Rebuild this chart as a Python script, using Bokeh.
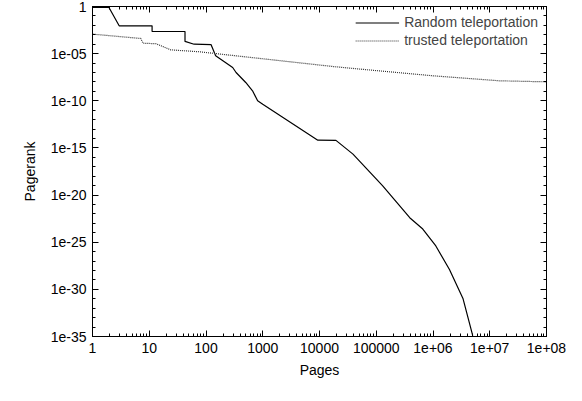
import numpy as np
from bokeh.plotting import figure
from bokeh.models import (FixedTicker, CustomJSTickFormatter, LogAxis, Legend, LegendItem, Range1d)
from bokeh.embed import file_html
from bokeh.resources import INLINE

# log10 values
random_logx = [0, 0.29, 0.47, 1.05, 1.05, 1.63, 1.63, 1.79, 2.09, 2.17, 2.47, 2.53, 2.70, 2.82, 2.91, 3.0,
               3.97, 4.29, 4.59, 5.11, 5.59, 5.82, 6.05, 6.29, 6.53, 6.70]
random_logy = [-0.1, -0.1, -2.05, -2.05, -2.65, -2.65, -3.7, -4.0, -4.05, -5.23, -6.47, -7.0, -8.06, -8.94, -10.0, -10.36,
               -14.18, -14.2, -15.66, -19.0, -22.4, -23.6, -25.4, -27.9, -31.0, -34.9]
trusted_logx = [0, 0.85, 0.89, 1.12, 1.38, 1.88, 4.23, 4.59, 6.0, 7.17, 8.0]
trusted_logy = [-2.93, -3.39, -3.89, -3.95, -4.6, -4.8, -6.36, -6.57, -7.35, -7.88, -7.99]

x_ticks = [1e0, 1e1, 1e2, 1e3, 1e4, 1e5, 1e6, 1e7, 1e8]
y_ticks = [10.0 ** e for e in range(-35, 1, 5)]

FONT = "Liberation Sans"
p = figure(width=566, height=385, x_axis_type="log", y_axis_type="log",
           x_range=Range1d(1, 1e8), y_range=Range1d(1e-35, 1),
           output_backend="svg", toolbar_location=None,
           min_border_left=92, min_border_right=20, min_border_top=6, min_border_bottom=49)
p.grid.visible = False
p.outline_line_color = "black"

rx = [10 ** v for v in random_logx]
ry = [10 ** v for v in random_logy]
tx = [10 ** v for v in trusted_logx]
ty = [10 ** v for v in trusted_logy]
r1 = p.line(rx, ry, line_color="black", line_width=1.2)
r2 = p.line(tx, ty, line_color="#333333", line_width=1.2, line_dash="1 1")

xminor = [m * 10 ** e for e in range(0, 8) for m in range(2, 10)]
yminor = [10.0 ** e for e in range(-35, 1)]
xfmt = CustomJSTickFormatter(code="""
const e = Math.round(Math.log(tick) / Math.LN10);
if (e <= 5) { return String(Math.round(Math.pow(10, e))); }
return '1e+' + (e < 10 ? '0' : '') + e;
""")
yfmt = CustomJSTickFormatter(code="""
const e = Math.round(Math.log(tick) / Math.LN10);
if (e == 0) { return '1'; }
return '1e-' + (-e < 10 ? '0' : '') + (-e);
""")

def style(ax):
    ax.major_tick_in = 6
    ax.major_tick_out = 0
    ax.minor_tick_in = 3
    ax.minor_tick_out = 0
    ax.axis_line_color = "black"
    ax.major_tick_line_color = "black"
    ax.minor_tick_line_color = "black"
    ax.major_label_text_font = FONT
    ax.major_label_text_font_size = "14px"
    ax.major_label_text_color = "black"
    ax.axis_label_text_font = FONT
    ax.axis_label_text_font_size = "14px"
    ax.axis_label_text_font_style = "normal"
    ax.axis_label_text_color = "black"

p.xaxis.ticker = FixedTicker(ticks=x_ticks, minor_ticks=xminor)
p.yaxis.ticker = FixedTicker(ticks=y_ticks, minor_ticks=yminor)
p.xaxis.formatter = xfmt
p.yaxis.formatter = yfmt
p.xaxis.axis_label = "Pages"
p.yaxis.axis_label = "Pagerank"
style(p.xaxis[0]); style(p.yaxis[0])
p.xaxis.major_label_standoff = 6
p.yaxis.major_label_standoff = 6
p.xaxis.axis_label_standoff = 6
p.yaxis.axis_label_standoff = 10

blank = CustomJSTickFormatter(code="return '';")
top = LogAxis(ticker=FixedTicker(ticks=x_ticks, minor_ticks=xminor), formatter=blank)
right = LogAxis(ticker=FixedTicker(ticks=y_ticks, minor_ticks=yminor), formatter=blank)
for ax in (top, right):
    style(ax)
    ax.major_label_standoff = 0
p.add_layout(top, "above")
p.add_layout(right, "right")

legend = Legend(items=[LegendItem(label="Random teleportation", renderers=[r1]),
                       LegendItem(label="trusted teleportation", renderers=[r2])],
                location="top_right", border_line_alpha=0, background_fill_alpha=0,
                label_text_font=FONT, label_text_font_size="14px",
                glyph_width=44, label_height=15, glyph_height=15, spacing=2,
                margin=4, padding=4)
p.add_layout(legend)

open("out.html", "w").write(file_html(p, INLINE))
